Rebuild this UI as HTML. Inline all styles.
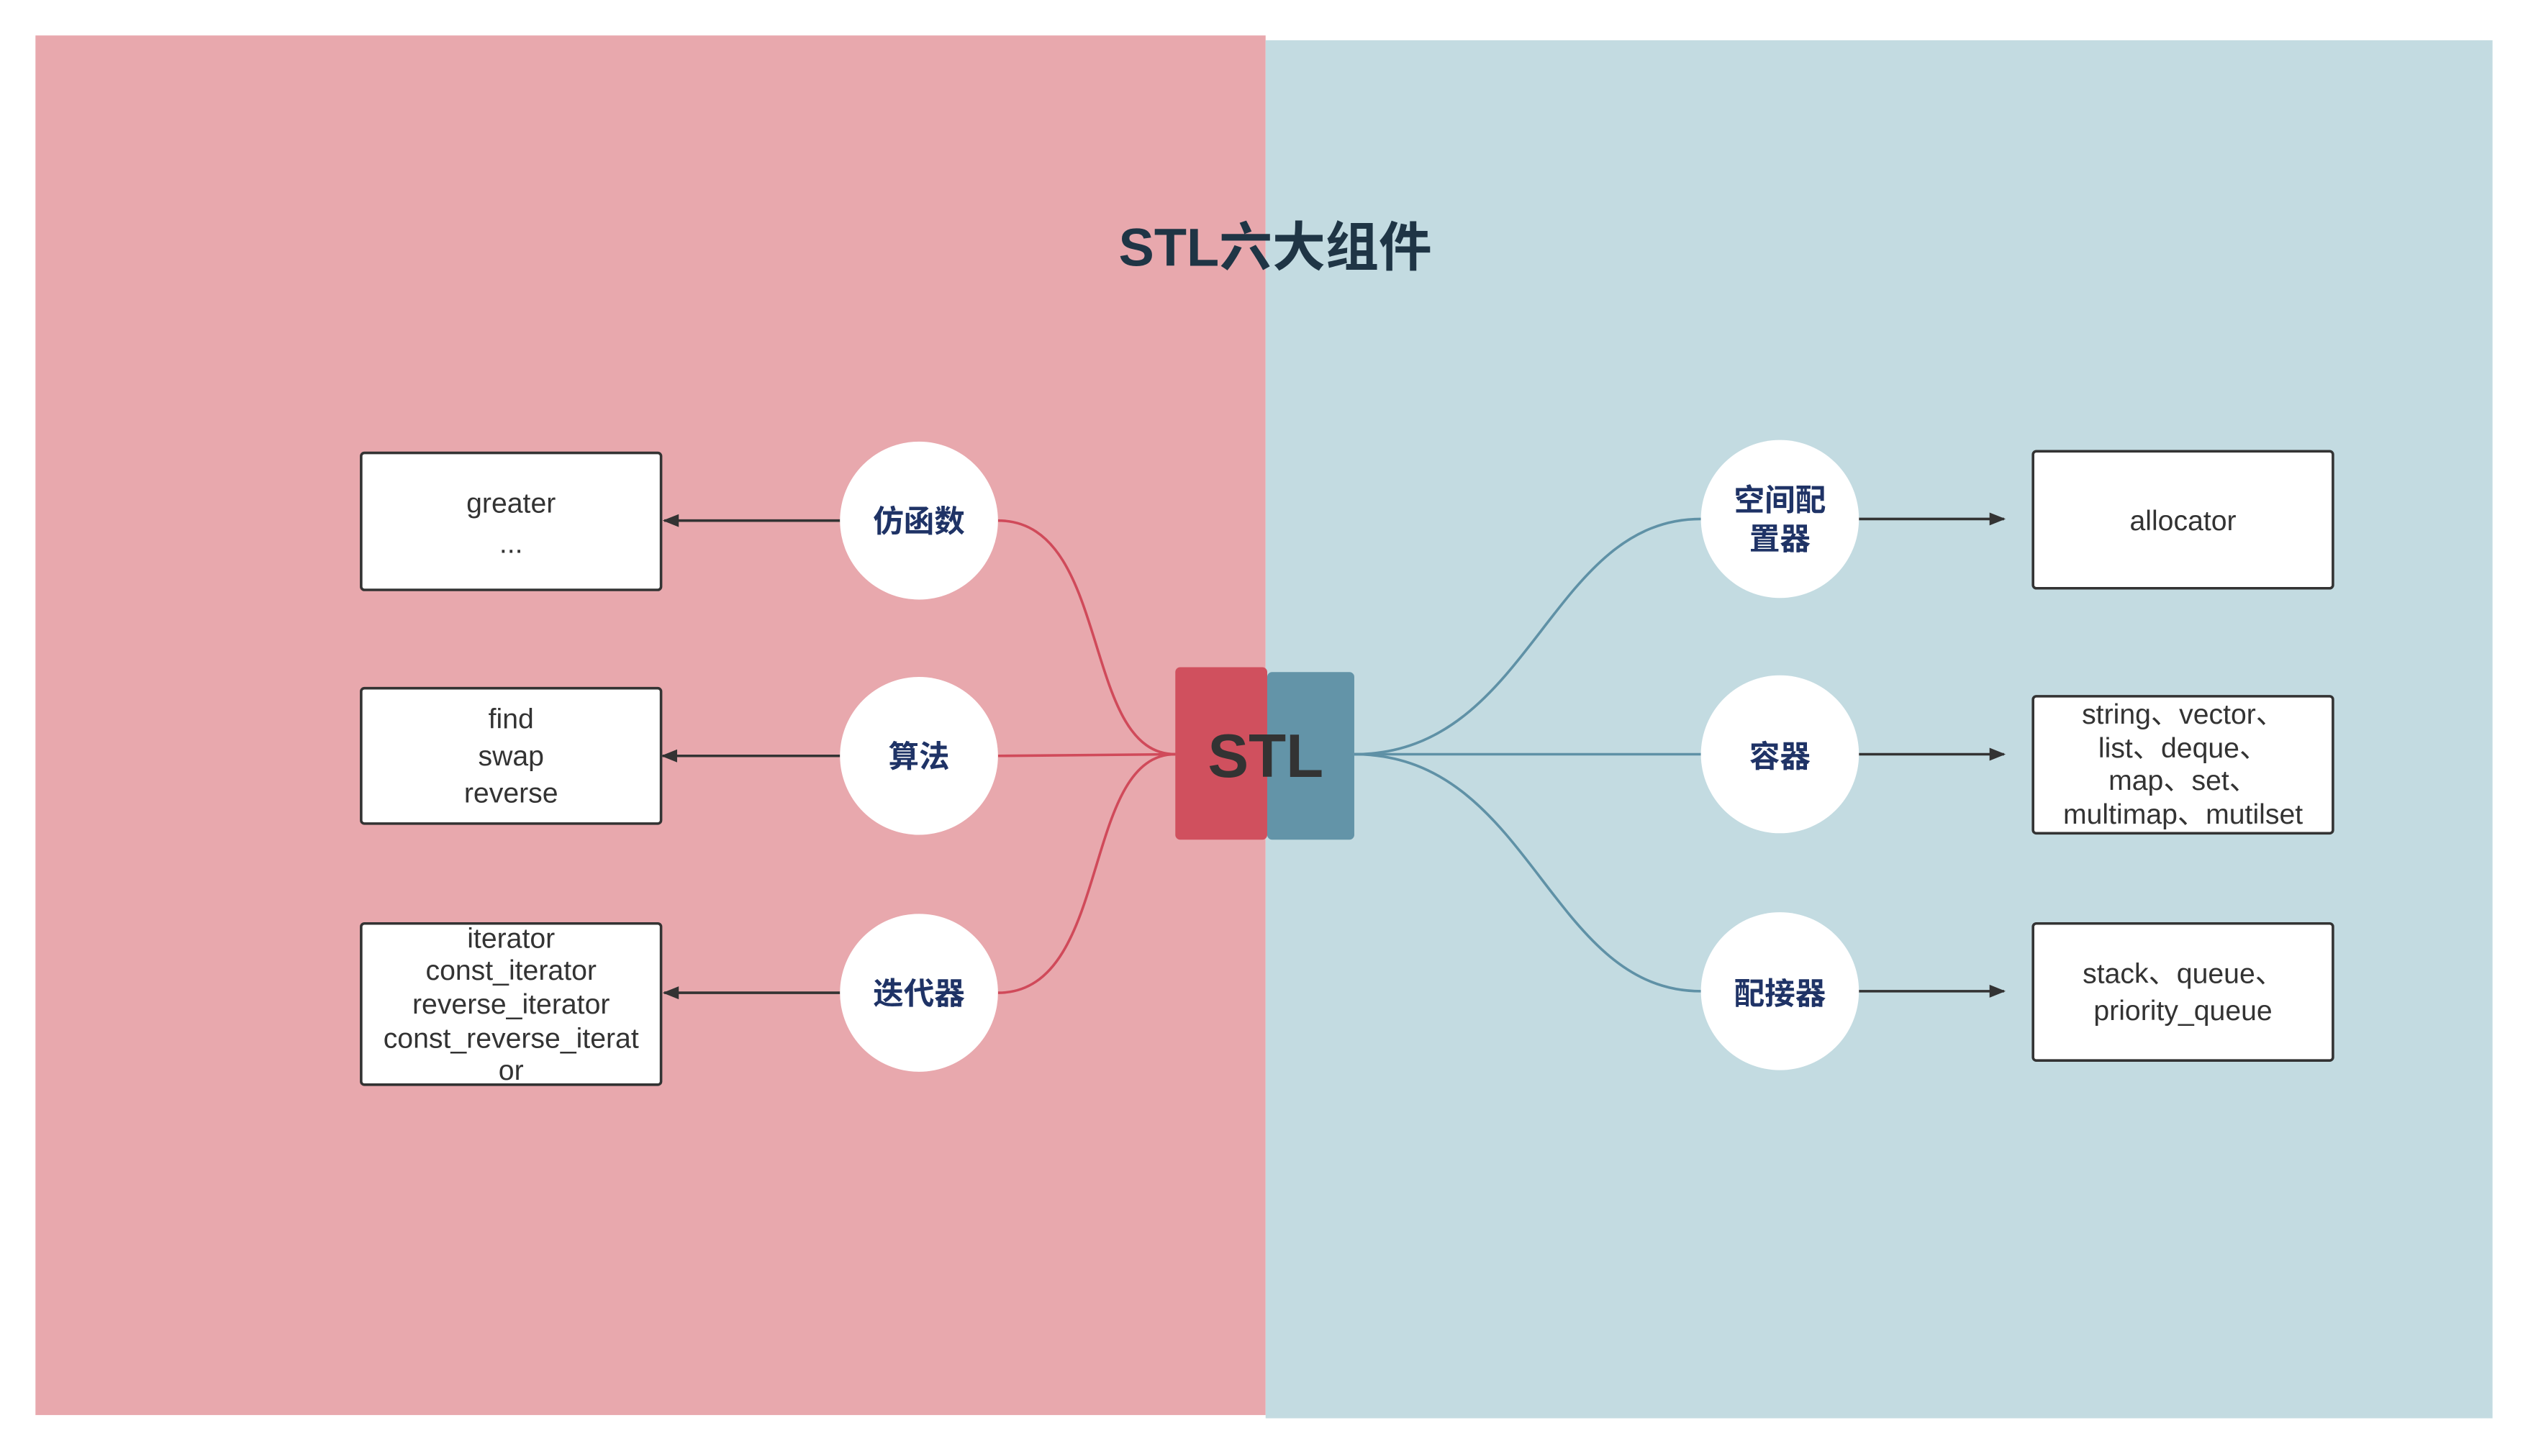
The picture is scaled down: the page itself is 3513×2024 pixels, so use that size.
<!DOCTYPE html>
<html><head><meta charset="utf-8"><style>
html,body{margin:0;padding:0;background:#fff;}
svg{display:block}
text{font-family:"Liberation Sans","Noto Sans CJK SC",sans-serif;}
</style></head><body>
<svg width="3513" height="2024" viewBox="0 0 1568 903.4" preserveAspectRatio="none" xmlns="http://www.w3.org/2000/svg">
<defs>
<marker id="ar" viewBox="0 0 10 10" refX="9" refY="5" markerWidth="12" markerHeight="10" orient="auto-start-reverse" markerUnits="userSpaceOnUse"><path d="M0,1 L10,5 L0,9 z" fill="#333"/></marker>
</defs>
<rect x="0" y="0" width="1568" height="904" fill="#fff"/>
<rect x="22" y="22" width="763" height="856" fill="#e8a8ad"/>
<rect x="785" y="25" width="761" height="855" fill="#c3dbe1"/>
<text x="791" y="165" text-anchor="middle" font-size="33" font-weight="bold" fill="#1f3545">STL六大组件</text>

<g fill="none" stroke="#d04a5a" stroke-width="1.6">
<path d="M729,468 C670,468 690,323 619,323"/>
<path d="M729,468 L619,469"/>
<path d="M729,468 C670,468 690,616 619,616"/>
</g>
<g fill="none" stroke="#5f91a6" stroke-width="1.6">
<path d="M840,468 C950,468 960,322 1055,322"/>
<path d="M840,468 L1055,468"/>
<path d="M840,468 C950,468 960,615 1055,615"/>
</g>

<rect x="729" y="414" width="57" height="107" rx="3" fill="#d0505e"/>
<rect x="786" y="417" width="54" height="104" rx="3" fill="#6394a8"/>
<text x="785" y="482" text-anchor="middle" font-size="38" font-weight="bold" fill="#333">STL</text>

<g stroke="#333" stroke-width="1.6" marker-end="url(#ar)">
<line x1="521" y1="323" x2="412" y2="323"/>
<line x1="521" y1="469" x2="411" y2="469"/>
<line x1="521" y1="616" x2="412" y2="616"/>
<line x1="1153" y1="322" x2="1243" y2="322"/>
<line x1="1153" y1="468" x2="1243" y2="468"/>
<line x1="1153" y1="615" x2="1243" y2="615"/>
</g>

<g fill="#fff">
<circle cx="570" cy="323" r="49"/><circle cx="570" cy="469" r="49"/><circle cx="570" cy="616" r="49"/>
<circle cx="1104" cy="322" r="49"/><circle cx="1104" cy="468" r="49"/><circle cx="1104" cy="615" r="49"/>
</g>
<g font-size="19" font-weight="bold" fill="#1f3366" text-anchor="middle">
<text x="570" y="330">仿函数</text>
<text x="570" y="476">算法</text>
<text x="570" y="623">迭代器</text>
<text x="1104" y="317">空间配</text>
<text x="1104" y="341">置器</text>
<text x="1104" y="476">容器</text>
<text x="1104" y="623">配接器</text>
</g>

<g fill="#fff" stroke="#333" stroke-width="1.6">
<rect x="224" y="281" width="186" height="85" rx="2"/>
<rect x="224" y="427" width="186" height="84" rx="2"/>
<rect x="224" y="573" width="186" height="100" rx="2"/>
<rect x="1261" y="280" width="186" height="85" rx="2"/>
<rect x="1261" y="432" width="186" height="85" rx="2"/>
<rect x="1261" y="573" width="186" height="85" rx="2"/>
</g>
<g font-size="17.5" fill="#333" text-anchor="middle">
<text x="317" y="318">greater</text>
<text x="317" y="343">...</text>
<text x="317" y="452">find</text>
<text x="317" y="475">swap</text>
<text x="317" y="498">reverse</text>
<text x="317" y="588">iterator</text>
<text x="317" y="608">const_iterator</text>
<text x="317" y="629">reverse_iterator</text>
<text x="317" y="650">const_reverse_iterat</text>
<text x="317" y="670">or</text>
<text x="1354" y="329">allocator</text>
<text x="1354" y="449">string、vector、</text>
<text x="1354" y="470">list、deque、</text>
<text x="1354" y="490">map、set、</text>
<text x="1354" y="511">multimap、mutilset</text>
<text x="1354" y="610">stack、queue、</text>
<text x="1354" y="633">priority_queue</text>
</g>
</svg>
</body></html>
